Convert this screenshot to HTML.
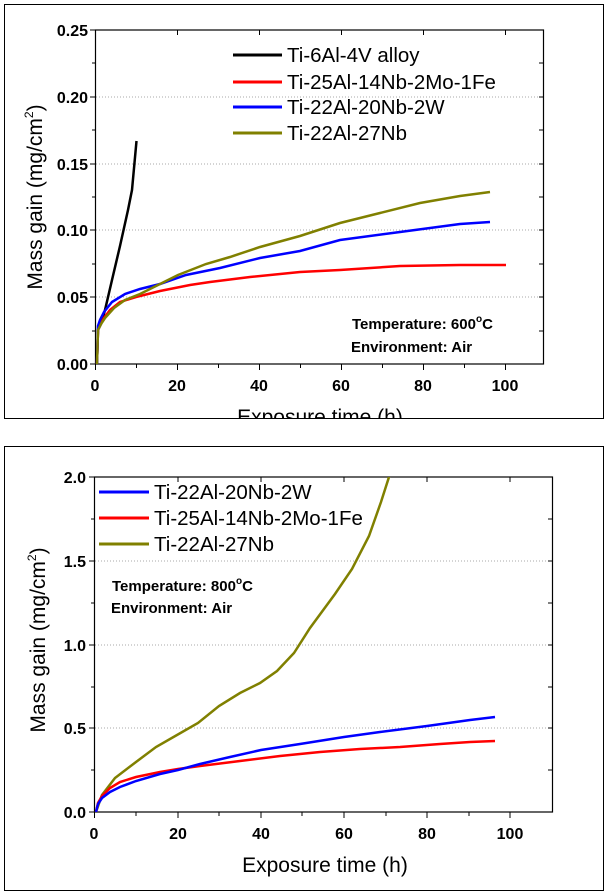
<!DOCTYPE html>
<html><head><style>body{margin:0;background:#fff}svg{display:block}</style></head><body>
<svg width="608" height="895" viewBox="0 0 608 895" xmlns="http://www.w3.org/2000/svg" font-family="Liberation Sans, sans-serif">
<rect width="608" height="895" fill="#fff"/>
<defs>
<clipPath id="tc"><rect x="0" y="0" width="608" height="418"/></clipPath>
<clipPath id="c"><rect x="94.5" y="477" width="458" height="335"/></clipPath>
</defs>
<!-- TOP -->
<rect x="4.5" y="4.5" width="599" height="414" fill="none" stroke="#000" stroke-width="1"/>
<g stroke="#aaa" stroke-dasharray="1,2" stroke-width="1">
<line x1="96" y1="297" x2="543" y2="297"/><line x1="96" y1="230" x2="543" y2="230"/><line x1="96" y1="164" x2="543" y2="164"/><line x1="96" y1="97" x2="543" y2="97"/>
</g>
<rect x="95.5" y="30" width="448" height="334" fill="none" stroke="#000" stroke-width="1.2"/>
<g stroke="#000" stroke-width="1">
<line x1="90" y1="364" x2="95.5" y2="364"/><line x1="90" y1="297" x2="95.5" y2="297"/><line x1="90" y1="230" x2="95.5" y2="230"/><line x1="90" y1="164" x2="95.5" y2="164"/><line x1="90" y1="97" x2="95.5" y2="97"/><line x1="90" y1="30" x2="95.5" y2="30"/>
<line x1="92" y1="331" x2="95.5" y2="331"/><line x1="92" y1="264" x2="95.5" y2="264"/><line x1="92" y1="197" x2="95.5" y2="197"/><line x1="92" y1="130" x2="95.5" y2="130"/><line x1="92" y1="63" x2="95.5" y2="63"/>
<line x1="543.5" y1="331" x2="539" y2="331"/><line x1="543.5" y1="297" x2="539" y2="297"/><line x1="543.5" y1="264" x2="539" y2="264"/><line x1="543.5" y1="230" x2="539" y2="230"/><line x1="543.5" y1="197" x2="539" y2="197"/><line x1="543.5" y1="164" x2="539" y2="164"/><line x1="543.5" y1="130" x2="539" y2="130"/><line x1="543.5" y1="97" x2="539" y2="97"/><line x1="543.5" y1="63" x2="539" y2="63"/>
<line x1="95.5" y1="364" x2="95.5" y2="370"/><line x1="177.5" y1="364" x2="177.5" y2="370"/><line x1="259.5" y1="364" x2="259.5" y2="370"/><line x1="341.5" y1="364" x2="341.5" y2="370"/><line x1="423.5" y1="364" x2="423.5" y2="370"/><line x1="505.5" y1="364" x2="505.5" y2="370"/>
<line x1="136.5" y1="364" x2="136.5" y2="368"/><line x1="218.5" y1="364" x2="218.5" y2="368"/><line x1="300.5" y1="364" x2="300.5" y2="368"/><line x1="382.5" y1="364" x2="382.5" y2="368"/><line x1="464.5" y1="364" x2="464.5" y2="368"/>
<line x1="177.5" y1="30" x2="177.5" y2="35"/><line x1="259.5" y1="30" x2="259.5" y2="35"/><line x1="341.5" y1="30" x2="341.5" y2="35"/><line x1="423.5" y1="30" x2="423.5" y2="35"/><line x1="505.5" y1="30" x2="505.5" y2="35"/>
</g>
<g font-size="16" font-weight="bold" text-anchor="end">
<text x="88" y="370">0.00</text><text x="88" y="303">0.05</text><text x="88" y="236">0.10</text><text x="88" y="170">0.15</text><text x="88" y="103">0.20</text><text x="88" y="36">0.25</text>
</g>
<g font-size="16" font-weight="bold" text-anchor="middle">
<text x="95" y="391">0</text><text x="177" y="391">20</text><text x="259" y="391">40</text><text x="341" y="391">60</text><text x="423" y="391">80</text><text x="505" y="391">100</text>
</g>
<text x="320" y="424" font-size="21" text-anchor="middle" clip-path="url(#tc)">Exposure time (h)</text>
<text transform="translate(42,197) rotate(-90)" font-size="21" text-anchor="middle">Mass gain (mg/cm<tspan font-size="12" dy="-9">2</tspan><tspan dy="9">)</tspan></text>
<g fill="none" stroke-width="2.5">
<polyline stroke="#000" points="97,364 98,330 101,324 105,310 112,280 120,246 128,210 132,190 136.5,141"/>
<polyline stroke="#ff0000" points="97,364 98,330 100,325 104,318 110,310 120,302 136,297 160,291 190,285 210,282 250,277 300,272 340,270 400,266 460,265 506,265"/>
<polyline stroke="#0000ff" points="97,364 98,326 100,320 104,312 112,302 125,294 140,289 160,284 186,275 220,268 260,258 300,251 340,240 400,232 460,224 490,222"/>
<polyline stroke="#808000" points="97,364 98,330 101,324 105,318 114,308 125,300 140,294 160,284 178,275 206,264 230,257 260,247 300,236 340,223 380,213 420,203 460,196 490,192"/>
</g>
<g stroke-width="3">
<line x1="233" y1="55" x2="282" y2="55" stroke="#000"/><line x1="233" y1="82" x2="282" y2="82" stroke="#ff0000"/><line x1="233" y1="107" x2="282" y2="107" stroke="#0000ff"/><line x1="233" y1="133" x2="282" y2="133" stroke="#808000"/>
</g>
<g font-size="20.5">
<text x="287" y="62">Ti-6Al-4V alloy</text><text x="287" y="89">Ti-25Al-14Nb-2Mo-1Fe</text><text x="287" y="114">Ti-22Al-20Nb-2W</text><text x="287" y="140">Ti-22Al-27Nb</text>
</g>
<g font-size="15" font-weight="bold">
<text x="352" y="329">Temperature: 600<tspan font-size="10" dy="-7">o</tspan><tspan dy="7">C</tspan></text>
<text x="351" y="352">Environment: Air</text>
</g>

<!-- BOTTOM -->
<rect x="4.5" y="446.5" width="599" height="444" fill="none" stroke="#000" stroke-width="1"/>
<g stroke="#aaa" stroke-dasharray="1,2" stroke-width="1">
<line x1="95" y1="728" x2="552" y2="728"/><line x1="95" y1="645" x2="552" y2="645"/><line x1="95" y1="561" x2="552" y2="561"/>
</g>
<rect x="94.5" y="477" width="458" height="335" fill="none" stroke="#000" stroke-width="1.2"/>
<g stroke="#000" stroke-width="1">
<line x1="89" y1="812" x2="94.5" y2="812"/><line x1="89" y1="728" x2="94.5" y2="728"/><line x1="89" y1="645" x2="94.5" y2="645"/><line x1="89" y1="561" x2="94.5" y2="561"/><line x1="89" y1="477" x2="94.5" y2="477"/>
<line x1="91" y1="770" x2="94.5" y2="770"/><line x1="91" y1="687" x2="94.5" y2="687"/><line x1="91" y1="603" x2="94.5" y2="603"/><line x1="91" y1="519" x2="94.5" y2="519"/>
<line x1="552.5" y1="770" x2="548" y2="770"/><line x1="552.5" y1="728" x2="548" y2="728"/><line x1="552.5" y1="687" x2="548" y2="687"/><line x1="552.5" y1="645" x2="548" y2="645"/><line x1="552.5" y1="603" x2="548" y2="603"/><line x1="552.5" y1="561" x2="548" y2="561"/><line x1="552.5" y1="519" x2="548" y2="519"/>
<line x1="94.5" y1="812" x2="94.5" y2="818"/><line x1="178" y1="812" x2="178" y2="818"/><line x1="261" y1="812" x2="261" y2="818"/><line x1="344" y1="812" x2="344" y2="818"/><line x1="427" y1="812" x2="427" y2="818"/><line x1="510" y1="812" x2="510" y2="818"/>
<line x1="136" y1="812" x2="136" y2="816"/><line x1="219" y1="812" x2="219" y2="816"/><line x1="302" y1="812" x2="302" y2="816"/><line x1="386" y1="812" x2="386" y2="816"/><line x1="469" y1="812" x2="469" y2="816"/>
<line x1="178" y1="477" x2="178" y2="482"/><line x1="261" y1="477" x2="261" y2="482"/><line x1="344" y1="477" x2="344" y2="482"/><line x1="427" y1="477" x2="427" y2="482"/><line x1="510" y1="477" x2="510" y2="482"/>
</g>
<g font-size="16" font-weight="bold" text-anchor="end">
<text x="86" y="818">0.0</text><text x="86" y="734">0.5</text><text x="86" y="651">1.0</text><text x="86" y="567">1.5</text><text x="86" y="483">2.0</text>
</g>
<g font-size="16" font-weight="bold" text-anchor="middle">
<text x="94" y="839">0</text><text x="178" y="839">20</text><text x="261" y="839">40</text><text x="344" y="839">60</text><text x="427" y="839">80</text><text x="510" y="839">100</text>
</g>
<text x="325" y="872" font-size="21" text-anchor="middle">Exposure time (h)</text>
<text transform="translate(45,640) rotate(-90)" font-size="21" text-anchor="middle">Mass gain (mg/cm<tspan font-size="12" dy="-9">2</tspan><tspan dy="9">)</tspan></text>
<g fill="none" stroke-width="2.5" clip-path="url(#c)">
<polyline stroke="#808000" points="96,812 102,795 115,778 136,762 156,747 177,735 198,723 219,706 240,693 260,683 277,671 294,653 310,628 335,594 352,569 369,536 381,502 389,477 391,470"/>
<polyline stroke="#ff0000" points="96,812 98,803 102,796 110,788 120,782 136,777 160,772 178,769 200,766 240,761 280,756 320,752 360,749 400,747 440,744 470,742 495,741"/>
<polyline stroke="#0000ff" points="96,812 98,804 102,798 110,792 120,787 136,781 160,774 178,770 200,764 230,757 261,750 300,744 344,737 380,732 427,726 470,720 495,717"/>
</g>
<g stroke-width="3">
<line x1="99" y1="492" x2="149" y2="492" stroke="#0000ff"/><line x1="99" y1="518" x2="149" y2="518" stroke="#ff0000"/><line x1="99" y1="544" x2="149" y2="544" stroke="#808000"/>
</g>
<g font-size="20.5">
<text x="154" y="499">Ti-22Al-20Nb-2W</text><text x="154" y="525">Ti-25Al-14Nb-2Mo-1Fe</text><text x="154" y="551">Ti-22Al-27Nb</text>
</g>
<g font-size="15" font-weight="bold">
<text x="112" y="591">Temperature: 800<tspan font-size="10" dy="-7">o</tspan><tspan dy="7">C</tspan></text>
<text x="111" y="613">Environment: Air</text>
</g>
</svg>
</body></html>
